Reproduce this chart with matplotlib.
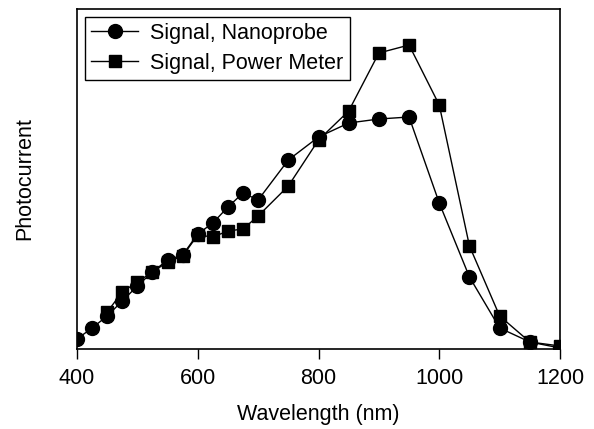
import matplotlib
matplotlib.use("Agg")
import matplotlib.pyplot as plt

plt.rcParams['font.family'] = ['Liberation Sans', 'DejaVu Sans']

wl_nano = [400, 425, 450, 475, 500, 525, 550, 575, 600, 625, 650, 675, 700,
           750, 800, 850, 900, 950, 1000, 1050, 1100, 1150, 1200]
sig_nano = [10, 21, 33, 48, 63, 77, 89, 94, 115, 126, 142, 156, 149,
            189, 212, 226, 230, 232, 146, 72, 21, 7, 1]

wl_pm = [450, 475, 500, 525, 550, 575, 600, 625, 650, 675, 700,
         750, 800, 850, 900, 950, 1000, 1050, 1100, 1150, 1200]
sig_pm = [37, 57, 67, 77, 87, 93, 114, 112, 118, 120, 133,
          163, 209, 238, 296, 304, 244, 103, 33, 7, 3]

xticks = [400, 600, 800, 1000, 1200]

fs = 15.5
fig = plt.figure(figsize=(5.94, 4.29), dpi=100)
ax = fig.add_axes([0.1296, 0.1865, 0.8132, 0.7925])

ax.plot(wl_nano, sig_nano, '-o', color='black', lw=1.0, ms=10,
        label='Signal, Nanoprobe')
ax.plot(wl_pm, sig_pm, '-s', color='black', lw=1.0, ms=8.5,
        label='Signal, Power Meter')

ax.set_xlim(400, 1200)
ax.set_ylim(0, 340)
ax.set_xticks(xticks)
ax.set_yticks([])
ax.tick_params(axis='x', direction='out', length=7.5, width=1, labelsize=fs, pad=6)
for s in ax.spines.values():
    s.set_linewidth(1.2)

ax.set_xlabel('Wavelength (nm)', fontsize=fs, labelpad=11)
ax.set_ylabel('Photocurrent', fontsize=fs, labelpad=30)

leg = ax.legend(loc='upper left', fontsize=fs, frameon=True, fancybox=False,
                edgecolor='black', framealpha=1, borderaxespad=0.35,
                handlelength=2.2, handletextpad=0.55, borderpad=0.3,
                labelspacing=0.4)
leg.get_frame().set_linewidth(1.0)

fig.savefig('out.png', dpi=100)
